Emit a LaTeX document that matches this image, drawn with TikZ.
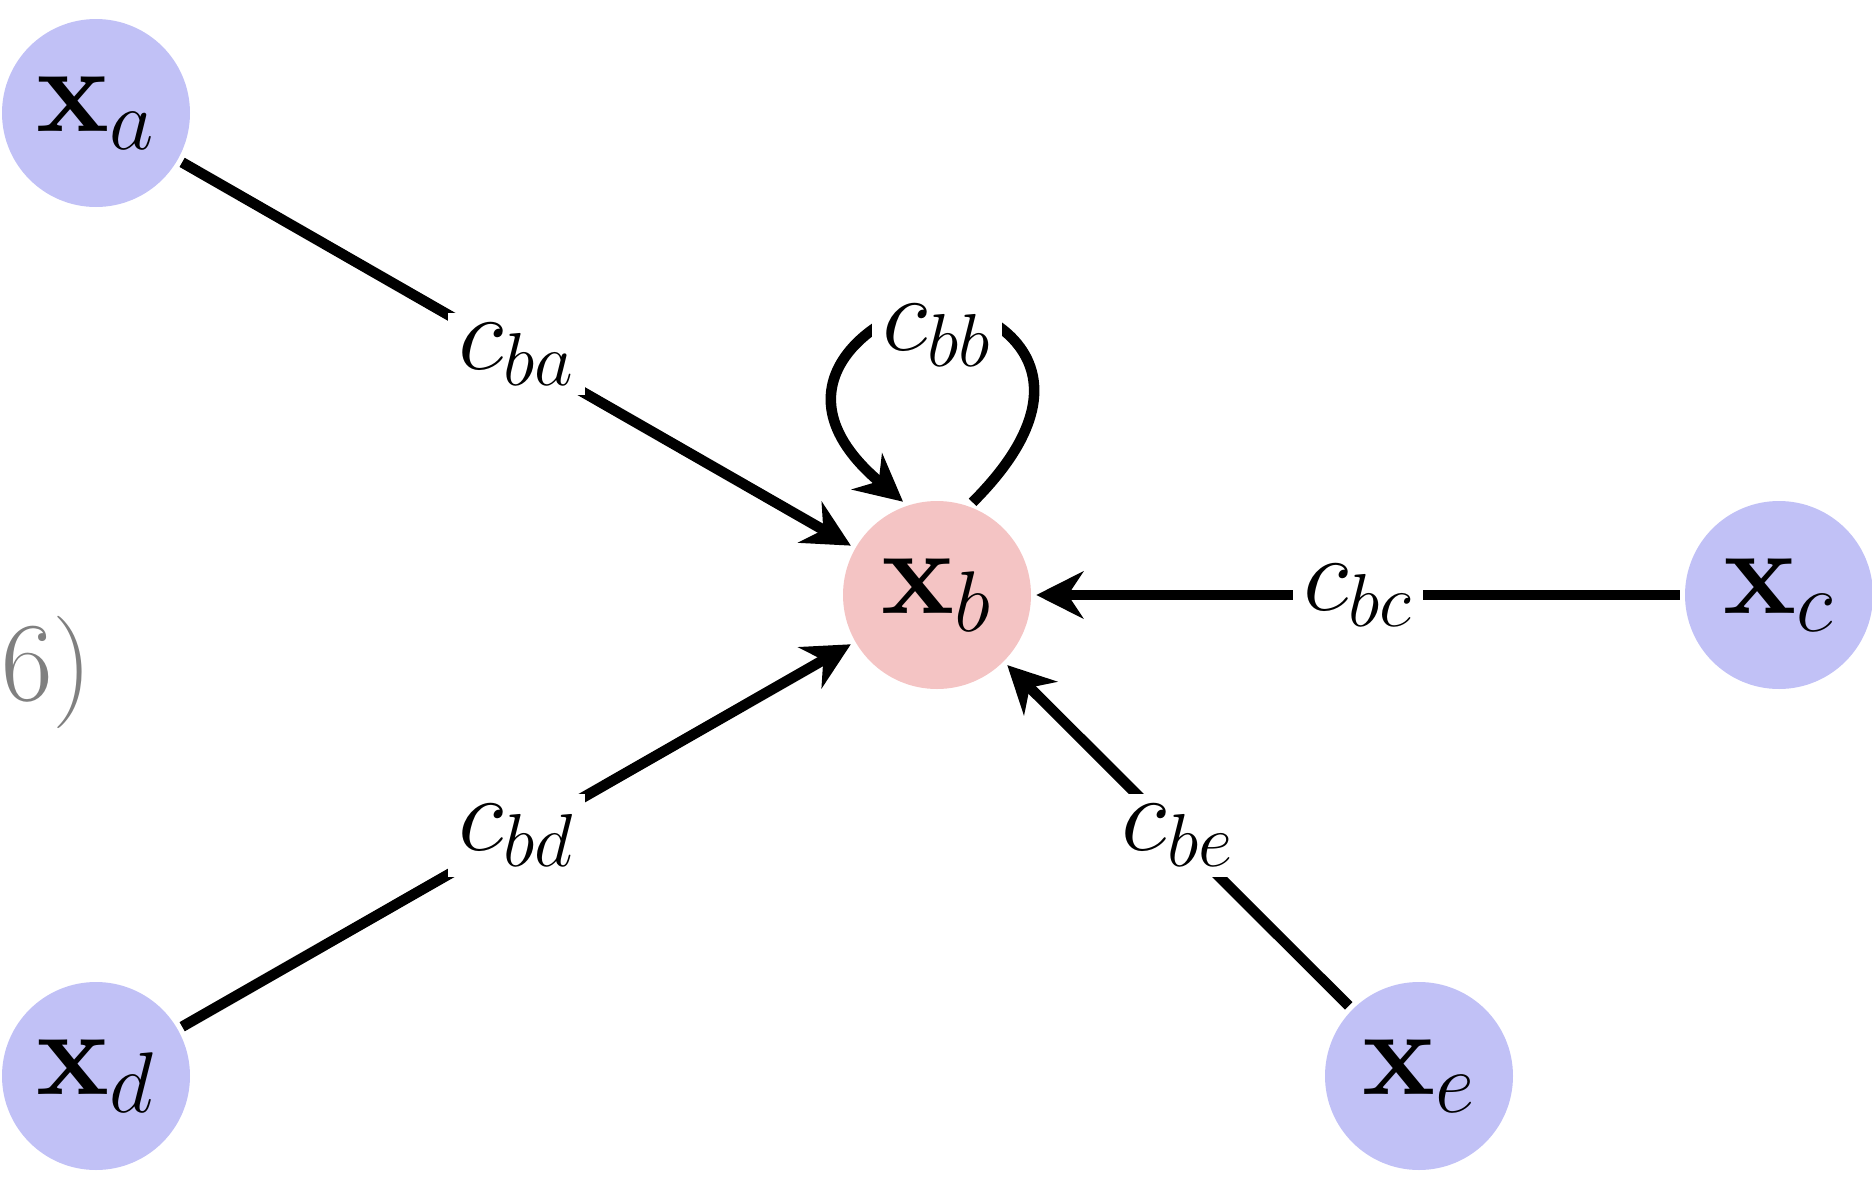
\RequirePackage{fix-cm}
\documentclass[tikz,border=0pt]{standalone}
\usetikzlibrary{arrows.meta}
\definecolor{nodeblue}{RGB}{193,193,246}
\definecolor{nodepink}{RGB}{244,196,196}
\begin{document}
\begin{tikzpicture}[
    vertex/.style={circle, fill=nodeblue, minimum size=1.88cm, inner sep=0pt,
      font=\fontsize{35}{42}\selectfont},
    tag/.style={fill=white, inner sep=0.1cm, font=\fontsize{30.5}{36}\selectfont},
    >={Stealth[length=0.47cm, width=0.47cm]}, line width=3pt]
  \useasboundingbox (0,0) rectangle (18.72,-11.86);
  \node[vertex] (xa) at (0.96,-1.13) {$\mathbf{x}_a$};
  \node[vertex, fill=nodepink] (xb) at (9.37,-5.95) {$\mathbf{x}_b$};
  \node[vertex] (xc) at (17.79,-5.95) {$\mathbf{x}_c$};
  \node[vertex] (xd) at (0.96,-10.76) {$\mathbf{x}_d$};
  \node[vertex] (xe) at (14.19,-10.76) {$\mathbf{x}_e$};
  \node[text=gray, font=\fontsize{32}{38}\selectfont] (six) at (0.47,-6.72) {6)};
  \coordinate (looptop) at (9.37,-3.05);
  \begin{scope}[->]
    \draw (xa) to node[tag] {$c_{ba}$} (xb);
    \draw (xc) to node[tag] {$c_{bc}$} (xb);
    \draw (xd) to node[tag] {$c_{bd}$} (xb);
    \draw (xe) to node[tag] {$c_{be}$} (xb);
    \draw (xb.69) .. controls +(45:1.9) and +(0:0.5) .. (looptop)
      node[tag, yshift=-0.3cm] {$c_{bb}$}
      .. controls +(180:0.5) and +(140:1.85) .. (xb.110);
  \end{scope}
\end{tikzpicture}
\end{document}
